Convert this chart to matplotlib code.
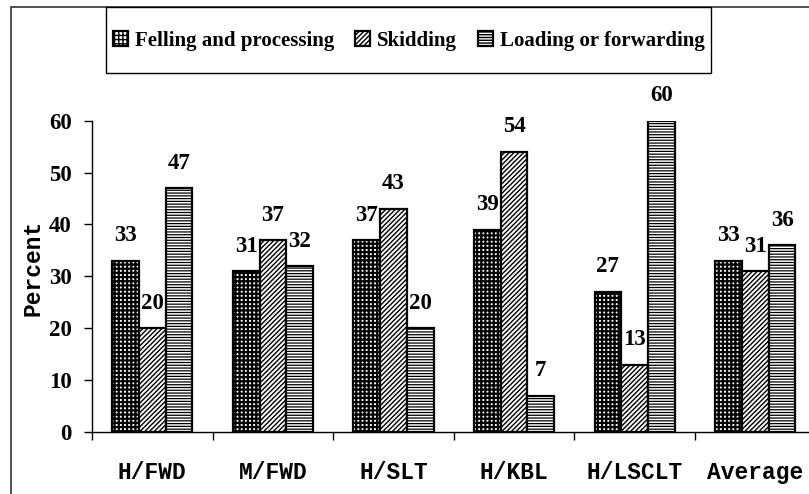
import matplotlib
matplotlib.use("Agg")
import matplotlib.pyplot as plt
import numpy as np
from matplotlib.patches import Rectangle
from matplotlib.font_manager import FontProperties

categories = ["H/FWD", "M/FWD", "H/SLT", "H/KBL", "H/LSCLT", "Average"]
series_names = ["Felling and processing", "Skidding", "Loading or forwarding"]
felling = [33, 31, 37, 39, 27, 33]
skidding = [20, 37, 43, 54, 13, 31]
loading = [47, 32, 20, 7, 60, 36]
y_ticks = [0, 10, 20, 30, 40, 50, 60]

W, H = 809, 494
fig = plt.figure(figsize=(W / 100, H / 100), dpi=100)
fig.patch.set_facecolor("white")

# axes geometry in pixels
x0, y0, step, ytop = 92, 432, 120.6, 120.7
ax = fig.add_axes([x0 / W, (H - y0) / H, 6 * step / W, (y0 - ytop) / H])

serif_bold = dict(family="Liberation Serif", fontweight="bold")
mono_bold = dict(family="Liberation Mono", fontweight="bold")

x = np.arange(len(categories))
w = 0.222
styles = [("++++", 1.6), ("///////", 1.0), ("------", 0.9)]
containers = []
for i, (vals, (hatch, hlw)) in enumerate(zip([felling, skidding, loading], styles)):
    with plt.rc_context({"hatch.linewidth": hlw}):
        bars = ax.bar(x + (i - 1) * w, vals, w, color="white", edgecolor="black",
                      hatch=hatch, linewidth=1.6, label=series_names[i])
        for b in bars:
            if hasattr(b, "set_hatch_linewidth"):
                b.set_hatch_linewidth(hlw)
    containers.append(bars)
    for xi, v in zip(x, vals):
        ax.annotate(str(v), (xi + (i - 1) * w, v), xytext=(0, 14),
                    textcoords="offset points", ha="center", va="baseline",
                    fontsize=16.5, annotation_clip=False, **serif_bold)

ax.set_xlim(-0.5, len(categories) - 0.5)
ax.set_ylim(0, 60)
ax.spines["top"].set_visible(False)
ax.spines["right"].set_visible(False)
for s in ("left", "bottom"):
    ax.spines[s].set_linewidth(1.0)
ax.spines["bottom"].set_clip_on(False)

ax.set_yticks(y_ticks)
ax.set_yticklabels([str(t) for t in y_ticks], fontsize=16.5, **serif_bold)
ax.tick_params(axis="y", direction="out", length=5.5, width=1.0, pad=9)

ax.set_xticks(x)
ax.set_xticklabels(categories, fontsize=16.5, **mono_bold)
ax.set_xticks(np.arange(-0.5, len(categories), 1), minor=True)
ax.tick_params(axis="x", which="major", length=0, pad=21)
ax.tick_params(axis="x", which="minor", direction="out", length=6, width=1.0)

fig.text(33 / W, 1 - 268 / H, "Percent", rotation=90, ha="center", va="center",
         fontsize=16.5, **mono_bold)

# outer chart border
fig.patches.append(Rectangle((11 / W, -0.2), 1.2, 1.2 - 7 / H,
                             transform=fig.transFigure, fill=False,
                             edgecolor="#333333", linewidth=1.2, zorder=0))
# legend box
fig.patches.append(Rectangle((106 / W, 1 - 73 / H), (711 - 106) / W, 66 / H,
                             transform=fig.transFigure, facecolor="white",
                             edgecolor="black", linewidth=1.0, zorder=1))
leg = fig.legend(handles=containers, labels=series_names, loc="center",
                 bbox_to_anchor=(409 / W, 1 - 41 / H), ncol=3, frameon=False,
                 prop=FontProperties(family="Liberation Serif", weight="bold", size=15),
                 handlelength=0.7, handleheight=0.7, handletextpad=0.35,
                 columnspacing=1.0, borderpad=0)
leg.set_zorder(3)

fig.savefig("out.png", dpi=100)
